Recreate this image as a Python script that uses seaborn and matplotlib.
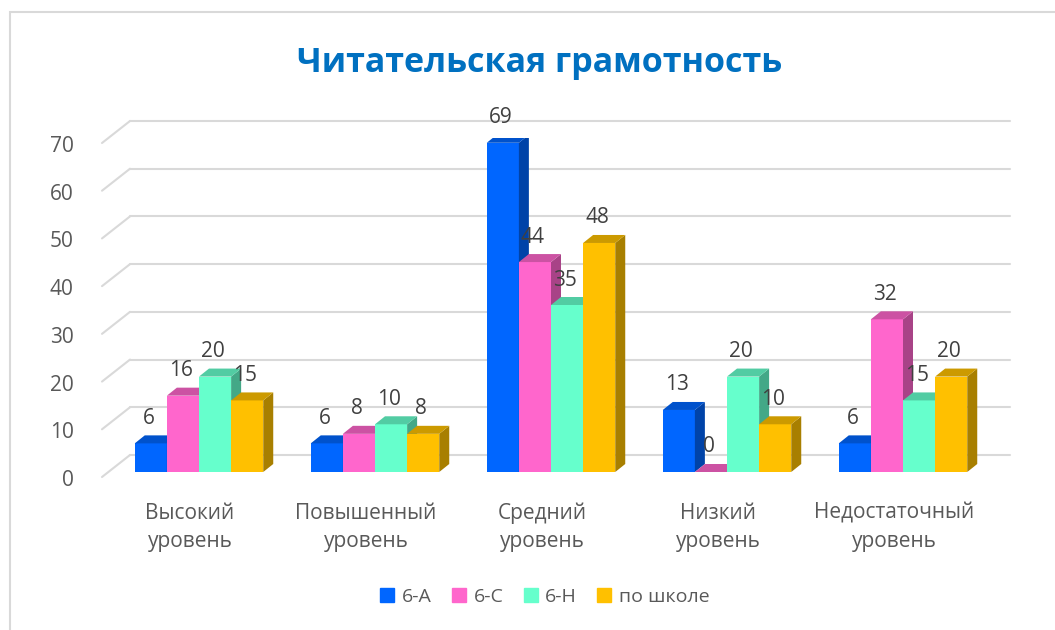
import pandas as pd
import matplotlib
matplotlib.use("Agg")
import matplotlib.pyplot as plt
import matplotlib.colors as mcolors
from matplotlib.patches import Polygon, Rectangle
from matplotlib.lines import Line2D
from matplotlib.transforms import ScaledTranslation
import seaborn as sns

# chart data
categories = ["Высокий\nуровень", "Повышенный\nуровень", "Средний\nуровень",
              "Низкий\nуровень", "Недостаточный\nуровень"]
groups = ["6-А", "6-С", "6-Н", "по школе"]
vals_6a = [6, 6, 69, 13, 6]
vals_6c = [16, 8, 44, 0, 32]
vals_6h = [20, 10, 35, 20, 15]
vals_school = [15, 8, 48, 10, 20]
colors = ["#0066FF", "#FF66CC", "#66FFCC", "#FFC000"]
yticks = [0, 10, 20, 30, 40, 50, 60, 70]

rows = []
for g, vals in zip(groups, [vals_6a, vals_6c, vals_6h, vals_school]):
    for c, v in zip(categories, vals):
        rows.append({"cat": c, "grp": g, "val": v})
df = pd.DataFrame(rows)

sns.set_style("white")
plt.rcParams['font.family'] = ['Open Sans', 'DejaVu Sans']
text_col = "#595959"
grid_col = "#D9D9D9"

fig = plt.figure(figsize=(10.55, 6.3), dpi=100)
ax = fig.add_axes([111 / 1055, 158 / 630, 880 / 1055, 334 / 630])
ax.patch.set_alpha(0)

sns.barplot(data=df, x="cat", y="val", hue="grp", order=categories, hue_order=groups,
            palette=dict(zip(groups, colors)), width=0.73, saturation=1,
            errorbar=None, legend=False, linewidth=0, ax=ax)
ax.set_xlim(-0.5, 4.5)
ax.set_ylim(0, 70)
for s in ax.spines.values():
    s.set_visible(False)

# pixel -> data units
ux = 5 / 880
uy = 70 / 334

# pseudo-3D gridlines (floor + back wall)
for y in yticks:
    ax.plot([-0.5 - 9 * ux, -0.5 + 19 * ux], [y - 5 * uy, y + 17 * uy],
            color=grid_col, lw=1.5, clip_on=False, zorder=1)
    ax.plot([-0.5 + 19 * ux, 4.5 + 19 * ux], [y + 17 * uy, y + 17 * uy],
            color=grid_col, lw=1.5, clip_on=False, zorder=1)

# 3D faces for bars + value labels
dx, dy = 10 * ux, 8 * uy
bars = sorted([p for p in ax.patches if isinstance(p, Rectangle)], key=lambda p: p.get_x())
for i, p in enumerate(bars):
    x0, w, h = p.get_x(), p.get_width(), p.get_height()
    rgb = mcolors.to_rgb(p.get_facecolor())
    side_c = tuple(c * 0.66 for c in rgb)
    top_c = tuple(c * 0.8 for c in rgb)
    z = 10 + i
    p.set_zorder(z)
    ax.add_patch(Polygon([(x0 + w, 0), (x0 + w + dx, dy), (x0 + w + dx, h + dy), (x0 + w, h)],
                         closed=True, facecolor=side_c, edgecolor="none", zorder=z))
    ax.add_patch(Polygon([(x0, h), (x0 + w, h), (x0 + w + dx, h + dy), (x0 + dx, h + dy)],
                         closed=True, facecolor=top_c, edgecolor="none", zorder=z))
    ax.text(x0 + w / 2 - 2 * ux, h + 25 * uy, f"{h:.0f}", ha="center", va="center",
            fontsize=15, color="#404040", zorder=60)

ax.set_yticks(yticks)
ax.set_xticks(range(len(categories)))
ax.set_xticklabels(categories, linespacing=1.45)
ax.set_xlabel("")
ax.set_ylabel("")
ax.tick_params(axis="y", length=0, pad=27, labelsize=15, labelcolor=text_col)
ax.tick_params(axis="x", length=0, pad=22, labelsize=15, labelcolor=text_col)

for lab in ax.get_yticklabels():
    lab.set_transform(lab.get_transform() + ScaledTranslation(0, -6 / 100, fig.dpi_scale_trans))
for lab in ax.get_xticklabels():
    lab.set_transform(lab.get_transform() + ScaledTranslation(-9 / 100, 0, fig.dpi_scale_trans))

fig.text(540 / 1055, (630 - 63) / 630, "Читательская грамотность", ha="center", va="center",
         fontsize=24.5, fontweight="bold", color="#0070C0")

handles = [Line2D([], [], marker="s", linestyle="", markersize=10, color=c) for c in colors]
fig.legend(handles, groups, loc="center", bbox_to_anchor=(545 / 1055, 33 / 630), ncol=4,
           frameon=False, fontsize=14, handlelength=0.7, handletextpad=0.4,
           columnspacing=1.05, labelcolor=text_col)

# chart area border
fig.add_artist(Rectangle((10 / 1055, -0.1), 1.2, 618 / 630 + 0.1, transform=fig.transFigure,
                         fill=False, edgecolor=grid_col, lw=1.5))

fig.savefig("out.png", dpi=100)
